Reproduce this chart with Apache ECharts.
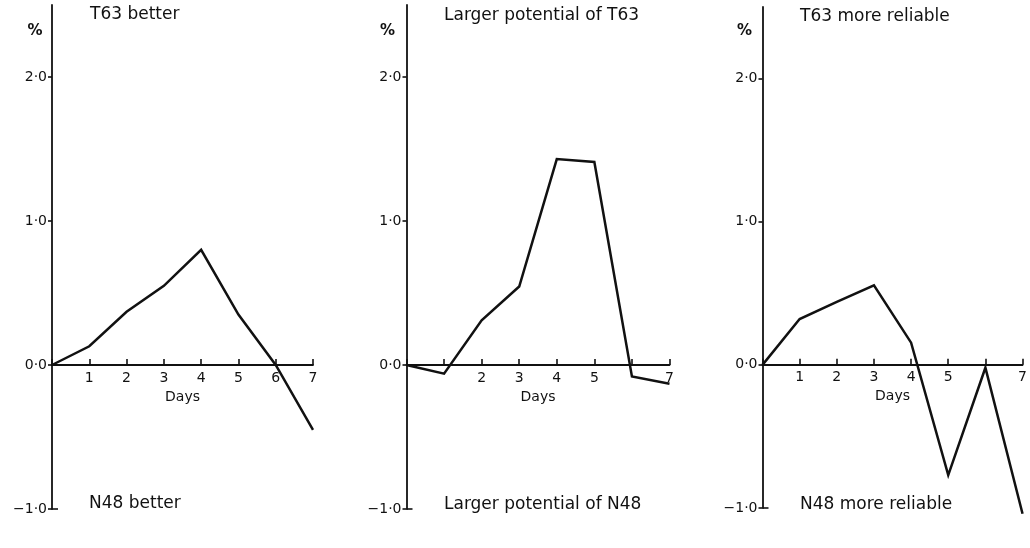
<!DOCTYPE html>
<html>
<head>
<meta charset="utf-8">
<script src="https://cdn.jsdelivr.net/npm/echarts@6/dist/echarts.min.js"></script>
<style>
html,body{margin:0;padding:0;background:#fff;}
#chart{width:1030px;height:548px;}
</style>
</head>
<body>
<div id="chart"></div>
<script>
// ---- data ----
var days = [0, 1, 2, 3, 4, 5, 6, 7];
var panel1Values = [0, 0.13, 0.37, 0.55, 0.80, 0.35, 0.0, -0.45];
var panel2Values = [0, -0.06, 0.31, 0.545, 1.43, 1.41, -0.08, -0.13];
var panel3Values = [0, 0.32, 0.44, 0.555, 0.155, -0.77, -0.02, -1.04];
var topTexts = ['T63 better', 'Larger potential of T63', 'T63 more reliable'];
var bottomTexts = ['N48 better', 'Larger potential of N48', 'N48 more reliable'];
var xTickLabels1 = ['', '1', '2', '3', '4', '5', '6', '7'];
var xTickLabels2 = ['', '', '2', '3', '4', '5', '', '7'];
var xTickLabels3 = ['', '1', '2', '3', '4', '5', '', '7'];
var yTickValues = [-1, 0, 1, 2];
var yTickLabels = ['\u22121\u00b70', '0\u00b70', '1\u00b70', '2\u00b70'];
var xAxisTitle = 'Days';
var yUnit = '%';
var yMin = -1, yMax = 2.5;

// ---- layout ----
var H = 548;
var FONT = 'DejaVu Sans';
var INK = '#111';
var panels = [
  {vals: panel1Values, xl: xTickLabels1, left: 52,  width: 261, top: 5, bottom: 39},
  {vals: panel2Values, xl: xTickLabels2, left: 406.5, width: 263, top: 5, bottom: 39},
  {vals: panel3Values, xl: xTickLabels3, left: 762.5, width: 262, top: 7, bottom: 40}
];
var textPos = [
  {tx: 90, ty: 16, bx: 89, by: 505, px: 35, py: 33},
  {tx: 444, ty: 17.5, bx: 444, by: 506, px: 387.5, py: 33},
  {tx: 800, ty: 18.5, bx: 800, by: 506, px: 744.5, py: 33}
];

var grids = [], xAxes = [], yAxes = [], series = [], graphics = [];
panels.forEach(function (p, i) {
  grids.push({left: p.left, width: p.width, top: p.top, bottom: p.bottom, containLabel: false});
  var gh = H - p.top - p.bottom;
  var zeroOffset = -gh * (0 - yMin) / (yMax - yMin); // lift x axis to y = 0
  (function (labels) {
    xAxes.push({
      type: 'value', gridIndex: i, min: 0, max: 7, interval: 1,
      position: 'bottom', offset: zeroOffset,
      axisLine: {onZero: false, lineStyle: {color: INK, width: 1.8}},
      axisTick: {show: true, inside: true, length: 6, lineStyle: {color: INK, width: 1.6}},
      axisLabel: {
        color: INK, fontFamily: FONT, fontSize: 14, margin: 6,
        formatter: function (v) { return labels[Math.round(v)] || ''; }
      },
      splitLine: {show: false},
      name: xAxisTitle, nameLocation: 'middle', nameGap: 25,
      nameTextStyle: {color: INK, fontFamily: FONT, fontSize: 14}
    });
  })(p.xl);
  yAxes.push({
    type: 'value', gridIndex: i, min: yMin, max: yMax,
    axisLine: {show: true, onZero: false, lineStyle: {color: INK, width: 1.8}},
    axisTick: {show: true, length: 4, customValues: yTickValues, lineStyle: {color: INK, width: 1.6}},
    axisLabel: {
      color: INK, fontFamily: FONT, fontSize: 14, margin: 5,
      customValues: yTickValues,
      formatter: function (v) {
        var k = yTickValues.indexOf(Math.round(v));
        return k >= 0 ? yTickLabels[k] : '';
      }
    },
    splitLine: {show: false}
  });
  // foot tick at the bottom of the y axis (points right)
  yAxes.push({
    type: 'value', gridIndex: i, min: yMin, max: yMax, position: 'left',
    axisLine: {show: false},
    axisTick: {show: true, inside: true, length: 6, customValues: [yMin], lineStyle: {color: INK, width: 1.6}},
    axisLabel: {show: false},
    splitLine: {show: false}
  });
  series.push({
    type: 'line', xAxisIndex: i, yAxisIndex: i * 2,
    data: days.map(function (d, k) { return [d, p.vals[k]]; }),
    showSymbol: false, symbol: 'none', clip: false,
    lineStyle: {color: INK, width: 2.5, join: 'miter'},
    silent: true, animation: false
  });
  var t = textPos[i];
  graphics.push({type: 'text', left: t.tx, top: t.ty - 10,
    style: {text: topTexts[i], fill: INK, font: '17px "' + FONT + '"'}});
  graphics.push({type: 'text', left: t.bx, top: t.by - 10,
    style: {text: bottomTexts[i], fill: INK, font: '17px "' + FONT + '"'}});
  graphics.push({type: 'text', left: t.px - 7.5, top: t.py - 9,
    style: {text: yUnit, fill: INK, font: 'bold 15px "' + FONT + '"'}});
});

var chart = echarts.init(document.getElementById('chart'), null, {renderer: 'canvas'});
chart.setOption({
  backgroundColor: '#fff',
  animation: false,
  grid: grids,
  xAxis: xAxes,
  yAxis: yAxes,
  series: series,
  graphic: graphics
});
</script>
</body>
</html>
